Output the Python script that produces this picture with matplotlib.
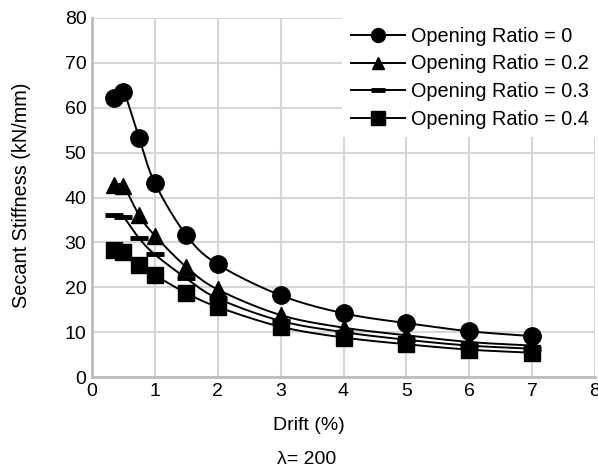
import matplotlib
matplotlib.use("Agg")
import matplotlib.pyplot as plt
import numpy as np

plt.rcParams['font.family'] = ['Liberation Sans', 'DejaVu Sans']

# Datos
drift = [0.35, 0.5, 0.75, 1, 1.5, 2, 3, 4, 5, 6, 7]
ratio_0 = [62.1, 63.5, 53.2, 43.2, 31.6, 25.1, 18.2, 14.2, 12.0, 10.2, 9.1]
ratio_02 = [42.7, 42.5, 36.0, 31.5, 24.5, 19.5, 13.8, 11.0, 9.3, 7.8, 7.0]
ratio_03 = [36.2, 35.6, 30.9, 27.3, 22.0, 17.5, 12.5, 10.0, 8.3, 7.0, 6.3]
ratio_04 = [28.3, 27.9, 25.0, 22.7, 18.7, 15.6, 11.2, 8.8, 7.3, 6.1, 5.4]

labels = ["Opening Ratio = 0", "Opening Ratio = 0.2",
          "Opening Ratio = 0.3", "Opening Ratio = 0.4"]
series = [ratio_0, ratio_02, ratio_03, ratio_04]
markers = ['o', '^', '_', 's']


def smooth(x, y, n=20):
    # Catmull-Rom para una curva suave que pasa por los puntos
    x = np.asarray(x, float)
    y = np.asarray(y, float)
    px = np.concatenate([[2 * x[0] - x[1]], x, [2 * x[-1] - x[-2]]])
    py = np.concatenate([[2 * y[0] - y[1]], y, [2 * y[-1] - y[-2]]])
    xs, ys = [], []
    t = np.linspace(0, 1, n)
    for i in range(1, len(px) - 2):
        for arr, out in ((px, xs), (py, ys)):
            p0, p1, p2, p3 = arr[i - 1], arr[i], arr[i + 1], arr[i + 2]
            out.extend(0.5 * (2 * p1 + (-p0 + p2) * t
                              + (2 * p0 - 5 * p1 + 4 * p2 - p3) * t ** 2
                              + (-p0 + 3 * p1 - 3 * p2 + p3) * t ** 3))
    return xs, ys


W, H = 598, 472
fig = plt.figure(figsize=(W / 100, H / 100), dpi=100)
ax = fig.add_axes([92 / W, 1 - 377 / H, 503 / W, 359 / H])

# tamaños de marcador: (grafico, leyenda, grosor)
sizes = {'o': (12.5, 10, 1), '^': (11.5, 9, 1), '_': (13, 10, 3.5), 's': (11, 10, 1)}

for vals, mk, lab in zip(series, markers, labels):
    ms, ms_leg, mew = sizes[mk]
    sx, sy = smooth(drift, vals)
    ax.plot(sx, sy, color='black', lw=1.4, zorder=3)
    ax.plot(drift, vals, linestyle='none', marker=mk, color='black',
            markersize=ms, markeredgewidth=mew, zorder=4)
    ax.plot([], [], color='black', lw=1.4, marker=mk,
            markersize=ms_leg, markeredgewidth=mew if mk == '_' else 1,
            label=lab)

ax.set_xlim(0, 8)
ax.set_ylim(0, 80)
ax.set_xticks(range(0, 9))
ax.set_yticks(range(0, 81, 10))
ax.grid(True, color='#d6d6d6', lw=1.5)
ax.set_axisbelow(True)
for side in ['top', 'right']:
    ax.spines[side].set_visible(False)
for side in ['left', 'bottom']:
    ax.spines[side].set_color('#bdbdbd')
    ax.spines[side].set_linewidth(2)
ax.tick_params(length=0, labelsize=14, pad=4)

fig.text(22 / W, 1 - 195 / H, "Secant Stiffness (kN/mm)", rotation=90,
         ha='center', va='center', fontsize=14.3)
fig.text(309 / W, 1 - 425 / H, "Drift (%)", ha='center', va='center',
         fontsize=14)
fig.text(307 / W, 1 - 460 / H, "λ= 200", ha='center', va='center',
         fontsize=14)

leg = ax.legend(loc='upper right', bbox_to_anchor=(1.0, 1 - 18 / H),
                bbox_transform=fig.transFigure, borderaxespad=0,
                fontsize=14.3, frameon=True, fancybox=False,
                handlelength=2.75, borderpad=0.45, labelspacing=0.43,
                handletextpad=0.3)
leg.get_frame().set_edgecolor('none')
leg.get_frame().set_facecolor('white')
leg.get_frame().set_alpha(1)

plt.savefig("out.png", dpi=100)
plt.close()
